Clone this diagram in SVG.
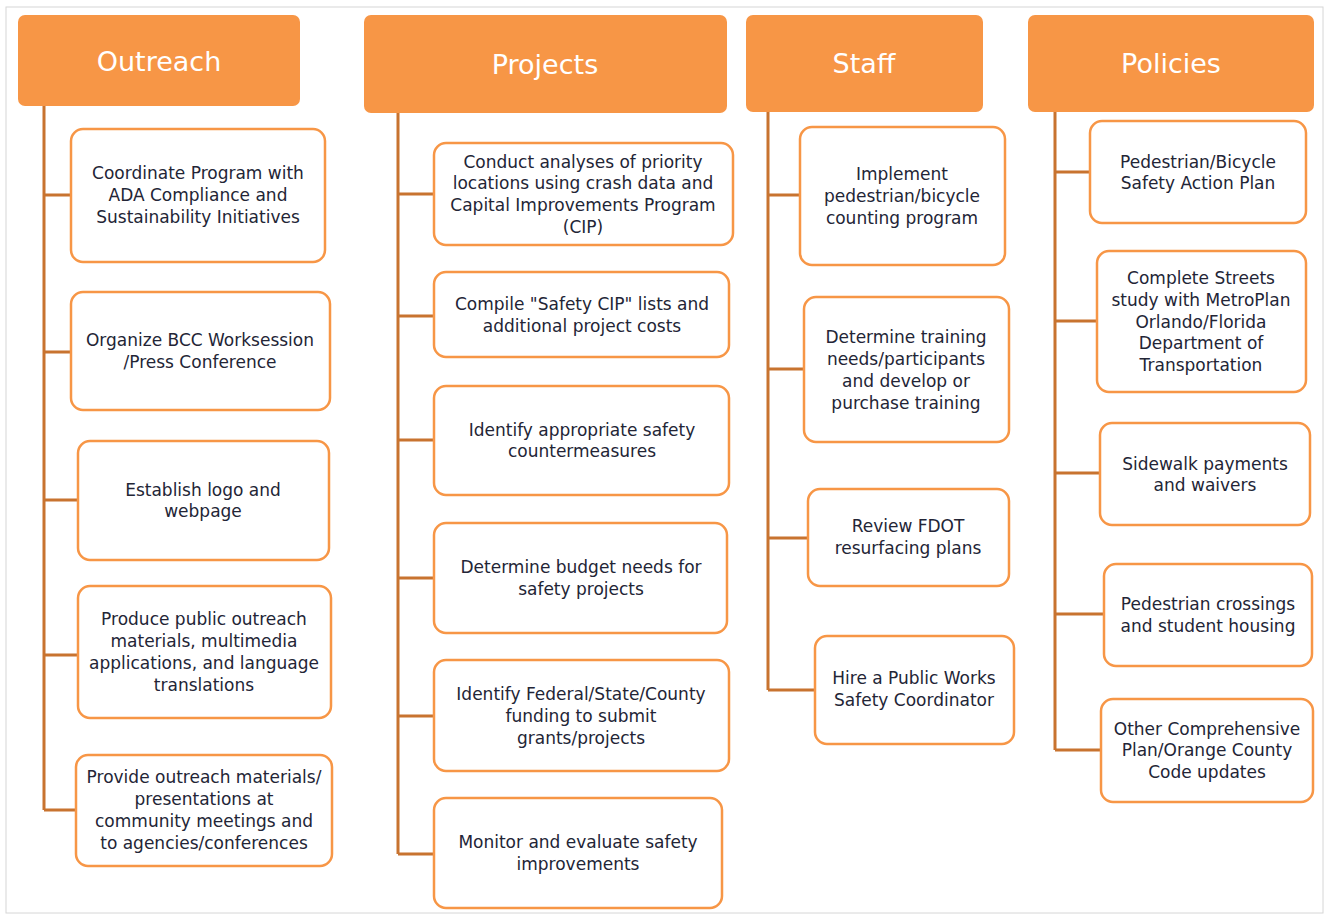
<svg xmlns="http://www.w3.org/2000/svg" width="1328" height="916" viewBox="0 0 1328 916">
<style>
.hdr{fill:#F79646;}
.ht{fill:#ffffff;font-family:"DejaVu Sans","Open Sans",sans-serif;font-size:27px;text-anchor:middle;}
.box{fill:#ffffff;stroke:#F79646;stroke-width:2.5;}
.bt{fill:#232536;font-family:"DejaVu Sans","Open Sans",sans-serif;font-size:17px;text-anchor:middle;}
.ln{fill:none;stroke:#C8732F;stroke-width:3;}
</style>
<rect x="0" y="0" width="1328" height="916" fill="#ffffff"/>
<rect x="6" y="7" width="1317" height="906" fill="none" stroke="#D6D6D6" stroke-width="1"/>
<g id="connectors">
<path class="ln" d="M44 106V810M44 195H71M44 352H71M44 500H78M44 655H78M44 810H76"/>
<path class="ln" d="M398 113V854M398 194H434M398 316H434M398 440H434M398 578H434M398 716H434M398 854H434"/>
<path class="ln" d="M768 112V690M768 195H800M768 369H804M768 538H808M768 690H815"/>
<path class="ln" d="M1055 112V750M1055 172H1090M1055 321H1097M1055 473H1100M1055 614H1104M1055 750H1101"/>
</g>
<g id="h-outreach"><rect class="hdr" x="18" y="15" width="282" height="91" rx="7"/><text class="ht" x="159" y="71">Outreach</text></g>
<g id="h-projects"><rect class="hdr" x="364" y="15" width="363" height="98" rx="7"/><text class="ht" x="545" y="74">Projects</text></g>
<g id="h-staff"><rect class="hdr" x="746" y="15" width="237" height="97" rx="7"/><text class="ht" x="864" y="73">Staff</text></g>
<g id="h-policies"><rect class="hdr" x="1028" y="15" width="286" height="97" rx="7"/><text class="ht" x="1171" y="73">Policies</text></g>

<g id="o1"><rect class="box" x="71" y="129" width="254" height="133" rx="12"/><text class="bt" x="198" y="179">Coordinate Program with</text><text class="bt" x="198" y="201">ADA Compliance and</text><text class="bt" x="198" y="223">Sustainability Initiatives</text></g>
<g id="o2"><rect class="box" x="71" y="292" width="259" height="118" rx="12"/><text class="bt" x="200" y="346">Organize BCC Worksession</text><text class="bt" x="200" y="368">/Press Conference</text></g>
<g id="o3"><rect class="box" x="78" y="441" width="251" height="119" rx="12"/><text class="bt" x="203" y="496">Establish logo and</text><text class="bt" x="203" y="517">webpage</text></g>
<g id="o4"><rect class="box" x="78" y="586" width="253" height="132" rx="12"/><text class="bt" x="204" y="625">Produce public outreach</text><text class="bt" x="204" y="647">materials, multimedia</text><text class="bt" x="204" y="669">applications, and language</text><text class="bt" x="204" y="691">translations</text></g>
<g id="o5"><rect class="box" x="76" y="755" width="256" height="111" rx="12"/><text class="bt" x="204" y="783">Provide outreach materials/</text><text class="bt" x="204" y="805">presentations at</text><text class="bt" x="204" y="827">community meetings and</text><text class="bt" x="204" y="849">to agencies/conferences</text></g>

<g id="p1"><rect class="box" x="434" y="143" width="299" height="102" rx="12"/><text class="bt" x="583" y="168">Conduct analyses of priority</text><text class="bt" x="583" y="189">locations using crash data and</text><text class="bt" x="583" y="211">Capital Improvements Program</text><text class="bt" x="583" y="233">(CIP)</text></g>
<g id="p2"><rect class="box" x="434" y="272" width="295" height="85" rx="12"/><text class="bt" x="582" y="310">Compile "Safety CIP" lists and</text><text class="bt" x="582" y="332">additional project costs</text></g>
<g id="p3"><rect class="box" x="434" y="386" width="295" height="109" rx="12"/><text class="bt" x="582" y="436">Identify appropriate safety</text><text class="bt" x="582" y="457">countermeasures</text></g>
<g id="p4"><rect class="box" x="434" y="523" width="293" height="110" rx="12"/><text class="bt" x="581" y="573">Determine budget needs for</text><text class="bt" x="581" y="595">safety projects</text></g>
<g id="p5"><rect class="box" x="434" y="660" width="295" height="111" rx="12"/><text class="bt" x="581" y="700">Identify Federal/State/County</text><text class="bt" x="581" y="722">funding to submit</text><text class="bt" x="581" y="744">grants/projects</text></g>
<g id="p6"><rect class="box" x="434" y="798" width="288" height="110" rx="12"/><text class="bt" x="578" y="848">Monitor and evaluate safety</text><text class="bt" x="578" y="870">improvements</text></g>

<g id="s1"><rect class="box" x="800" y="127" width="205" height="138" rx="12"/><text class="bt" x="902" y="180">Implement</text><text class="bt" x="902" y="202">pedestrian/bicycle</text><text class="bt" x="902" y="224">counting program</text></g>
<g id="s2"><rect class="box" x="804" y="297" width="205" height="145" rx="12"/><text class="bt" x="906" y="343">Determine training</text><text class="bt" x="906" y="365">needs/participants</text><text class="bt" x="906" y="387">and develop or</text><text class="bt" x="906" y="409">purchase training</text></g>
<g id="s3"><rect class="box" x="808" y="489" width="201" height="97" rx="12"/><text class="bt" x="908" y="532">Review FDOT</text><text class="bt" x="908" y="554">resurfacing plans</text></g>
<g id="s4"><rect class="box" x="815" y="636" width="199" height="108" rx="12"/><text class="bt" x="914" y="684">Hire a Public Works</text><text class="bt" x="914" y="706">Safety Coordinator</text></g>

<g id="c1"><rect class="box" x="1090" y="121" width="216" height="102" rx="12"/><text class="bt" x="1198" y="168">Pedestrian/Bicycle</text><text class="bt" x="1198" y="189">Safety Action Plan</text></g>
<g id="c2"><rect class="box" x="1097" y="251" width="209" height="141" rx="12"/><text class="bt" x="1201" y="284">Complete Streets</text><text class="bt" x="1201" y="306">study with MetroPlan</text><text class="bt" x="1201" y="328">Orlando/Florida</text><text class="bt" x="1201" y="349">Department of</text><text class="bt" x="1201" y="371">Transportation</text></g>
<g id="c3"><rect class="box" x="1100" y="423" width="210" height="102" rx="12"/><text class="bt" x="1205" y="470">Sidewalk payments</text><text class="bt" x="1205" y="491">and waivers</text></g>
<g id="c4"><rect class="box" x="1104" y="564" width="208" height="102" rx="12"/><text class="bt" x="1208" y="610">Pedestrian crossings</text><text class="bt" x="1208" y="632">and student housing</text></g>
<g id="c5"><rect class="box" x="1101" y="699" width="212" height="103" rx="12"/><text class="bt" x="1207" y="735">Other Comprehensive</text><text class="bt" x="1207" y="756">Plan/Orange County</text><text class="bt" x="1207" y="778">Code updates</text></g>
</svg>
